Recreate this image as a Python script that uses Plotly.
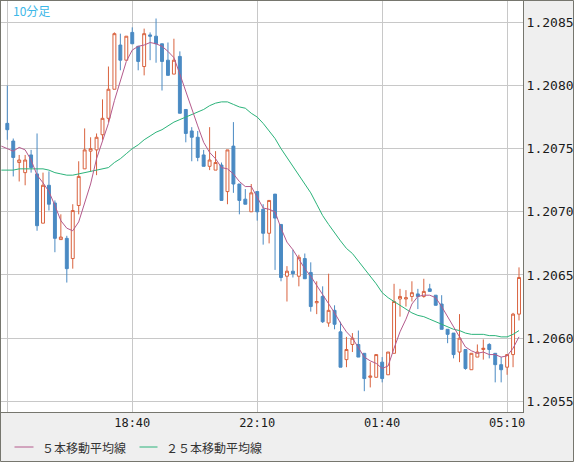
import pandas as pd
import plotly.graph_objects as go

# ---------------- data (10-minute candles, 15:10 -> 05:30) ----------------
open_ = [1.20770, 1.20756, 1.20739, 1.20731, 1.20745, 1.20730, 1.20691, 1.20721, 1.20707, 1.20678,
         1.20679, 1.20663, 1.20705, 1.20734, 1.20748, 1.20749, 1.20761, 1.20774, 1.20797, 1.20832,
         1.20820, 1.20842, 1.20831, 1.20815, 1.20840, 1.20839, 1.20833, 1.20820, 1.20809, 1.20823,
         1.20781, 1.20764, 1.20759, 1.20745, 1.20736, 1.20733, 1.20737, 1.20716, 1.20752, 1.20722,
         1.20710, 1.20700, 1.20716, 1.20702, 1.20683, 1.20714, 1.20690, 1.20649, 1.20653, 1.20649,
         1.20663, 1.20652, 1.20628, 1.20633, 1.20612, 1.20622, 1.20605, 1.20583, 1.20595, 1.20595,
         1.20588, 1.20569, 1.20569, 1.20581, 1.20571, 1.20588, 1.20631, 1.20631, 1.20633, 1.20635,
         1.20633, 1.20639, 1.20634, 1.20627, 1.20607, 1.20604, 1.20589, 1.20591, 1.20575, 1.20585,
         1.20591, 1.20595, 1.20588, 1.20579, 1.20577, 1.20587, 1.20619]
high = [1.20800, 1.20758, 1.20745, 1.20745, 1.20749, 1.20762, 1.20731, 1.20732, 1.20709, 1.20698,
        1.20681, 1.20706, 1.20740, 1.20766, 1.20759, 1.20762, 1.20789, 1.20815, 1.20842, 1.20841,
        1.20839, 1.20846, 1.20831, 1.20845, 1.20842, 1.20853, 1.20833, 1.20834, 1.20837, 1.20827,
        1.20781, 1.20767, 1.20764, 1.20749, 1.20767, 1.20748, 1.20739, 1.20749, 1.20771, 1.20722,
        1.20718, 1.20722, 1.20716, 1.20706, 1.20709, 1.20714, 1.20690, 1.20657, 1.20670, 1.20666,
        1.20667, 1.20660, 1.20645, 1.20641, 1.20651, 1.20626, 1.20613, 1.20601, 1.20604, 1.20606,
        1.20588, 1.20581, 1.20587, 1.20585, 1.20589, 1.20643, 1.20639, 1.20638, 1.20645, 1.20639,
        1.20647, 1.20643, 1.20634, 1.20634, 1.20607, 1.20604, 1.20619, 1.20591, 1.20588, 1.20595,
        1.20599, 1.20596, 1.20588, 1.20585, 1.20587, 1.20620, 1.20656]
low = [1.20757, 1.20728, 1.20724, 1.20721, 1.20731, 1.20685, 1.20691, 1.20701, 1.20668, 1.20678,
       1.20644, 1.20655, 1.20698, 1.20734, 1.20732, 1.20729, 1.20757, 1.20771, 1.20797, 1.20812,
       1.20820, 1.20833, 1.20812, 1.20808, 1.20820, 1.20818, 1.20796, 1.20808, 1.20809, 1.20778,
       1.20755, 1.20740, 1.20740, 1.20736, 1.20733, 1.20733, 1.20709, 1.20706, 1.20715, 1.20698,
       1.20706, 1.20700, 1.20693, 1.20674, 1.20675, 1.20654, 1.20645, 1.20629, 1.20648, 1.20641,
       1.20647, 1.20621, 1.20619, 1.20612, 1.20609, 1.20607, 1.20577, 1.20577, 1.20589, 1.20585,
       1.20558, 1.20561, 1.20569, 1.20565, 1.20571, 1.20588, 1.20617, 1.20625, 1.20629, 1.20623,
       1.20632, 1.20637, 1.20626, 1.20607, 1.20596, 1.20584, 1.20581, 1.20575, 1.20575, 1.20585,
       1.20583, 1.20584, 1.20565, 1.20565, 1.20571, 1.20577, 1.20614]
close = [1.20765, 1.20743, 1.20741, 1.20741, 1.20735, 1.20689, 1.20721, 1.20706, 1.20679, 1.20680,
         1.20655, 1.20701, 1.20728, 1.20749, 1.20750, 1.20759, 1.20774, 1.20797, 1.20841, 1.20820,
         1.20839, 1.20833, 1.20819, 1.20841, 1.20839, 1.20833, 1.20819, 1.20808, 1.20820, 1.20778,
         1.20762, 1.20759, 1.20743, 1.20736, 1.20741, 1.20739, 1.20709, 1.20749, 1.20722, 1.20709,
         1.20706, 1.20715, 1.20700, 1.20683, 1.20709, 1.20695, 1.20648, 1.20653, 1.20651, 1.20664,
         1.20647, 1.20625, 1.20629, 1.20613, 1.20622, 1.20611, 1.20577, 1.20591, 1.20600, 1.20585,
         1.20568, 1.20570, 1.20587, 1.20568, 1.20589, 1.20629, 1.20633, 1.20632, 1.20636, 1.20633,
         1.20637, 1.20637, 1.20626, 1.20607, 1.20603, 1.20587, 1.20600, 1.20576, 1.20588, 1.20589,
         1.20592, 1.20591, 1.20579, 1.20575, 1.20587, 1.20619, 1.20648]

# moving averages as drawn (first point is the 15:00 bar at the left edge)
ma5 = [1.20752,
       1.20750, 1.20748, 1.20751, 1.20749, 1.20741, 1.20729, 1.20723, 1.20716, 1.20705, 1.20693,
       1.20687, 1.20685, 1.20692, 1.20707, 1.20722, 1.20742, 1.20756, 1.20770, 1.20788, 1.20803,
       1.20819, 1.20828, 1.20831, 1.20832, 1.20834, 1.20833, 1.20831, 1.20827, 1.20822, 1.20809,
       1.20795, 1.20781, 1.20768, 1.20755, 1.20747, 1.20742, 1.20735, 1.20734, 1.20730, 1.20724,
       1.20720, 1.20720, 1.20711, 1.20703, 1.20702, 1.20700, 1.20687, 1.20676, 1.20670, 1.20662,
       1.20655, 1.20649, 1.20642, 1.20634, 1.20627, 1.20620, 1.20612, 1.20605, 1.20600, 1.20592,
       1.20585, 1.20582, 1.20580, 1.20576, 1.20578, 1.20592, 1.20605, 1.20615, 1.20627, 1.20633,
       1.20634, 1.20634, 1.20632, 1.20625, 1.20617, 1.20609, 1.20601, 1.20593, 1.20590, 1.20588,
       1.20589, 1.20587, 1.20587, 1.20585, 1.20586, 1.20592, 1.20601]
ma25 = [1.20733,
        1.20733, 1.20733, 1.20734, 1.20734, 1.20734, 1.20734, 1.20734, 1.20733, 1.20731, 1.20730,
        1.20729, 1.20729, 1.20730, 1.20731, 1.20732, 1.20733, 1.20734, 1.20735, 1.20739, 1.20742,
        1.20746, 1.20750, 1.20753, 1.20757, 1.20760, 1.20763, 1.20765, 1.20768, 1.20771, 1.20773,
        1.20775, 1.20777, 1.20779, 1.20781, 1.20784, 1.20786, 1.20787, 1.20787, 1.20785, 1.20783,
        1.20782, 1.20778, 1.20775, 1.20770, 1.20764, 1.20758, 1.20750, 1.20743, 1.20736, 1.20729,
        1.20722, 1.20715, 1.20706, 1.20697, 1.20690, 1.20683, 1.20677, 1.20671, 1.20667, 1.20661,
        1.20655, 1.20649, 1.20643, 1.20636, 1.20632, 1.20629, 1.20626, 1.20623, 1.20620, 1.20618,
        1.20617, 1.20615, 1.20613, 1.20611, 1.20609, 1.20607, 1.20606, 1.20604, 1.20603, 1.20603,
        1.20603, 1.20602, 1.20602, 1.20601, 1.20601, 1.20603, 1.20606]

y_ticks = [1.2055, 1.2060, 1.2065, 1.2070, 1.2075, 1.2080, 1.2085]
x_tick_idx = [0, 21, 42, 63, 84]
x_tick_text = ["", "18:40", "22:10", "01:40", "05:10"]
series_names = ["５本移動平均線", "２５本移動平均線"]
chart_label = "10分足"

times = pd.date_range("2021-03-04 15:10", periods=len(close), freq="10min")
ma_times = pd.date_range("2021-03-04 15:00", periods=len(ma5), freq="10min")

UP = "#d9623e"
DOWN = "#4a8ac3"
C5 = "#b45a8c"
C25 = "#2bb37a"
GRID = "#c8c8c8"
FRAME = "#76766e"

fig = go.Figure()
fig.add_trace(go.Candlestick(
    x=times, open=open_, high=high, low=low, close=close,
    increasing=dict(line=dict(color=UP, width=1), fillcolor="#ffffff"),
    decreasing=dict(line=dict(color=DOWN, width=1), fillcolor=DOWN),
    whiskerwidth=0, hoverinfo="skip", showlegend=False))
fig.add_trace(go.Scatter(x=ma_times, y=ma25, mode="lines", line=dict(color=C25, width=1),
                         hoverinfo="skip", showlegend=False))
fig.add_trace(go.Scatter(x=ma_times, y=ma5, mode="lines", line=dict(color=C5, width=1),
                         hoverinfo="skip", showlegend=False))

W, H = 574, 462
L, R, T, B = 1, 51, 0, 50
pw, ph = W - L - R, H - T - B

def px(xp):
    return (xp - L) / pw

def py(yp):
    return (T + ph - yp) / ph

bar = pd.Timedelta(minutes=10)
fig.update_layout(
    width=W, height=H,
    margin=dict(l=L, r=R, t=T, b=B, pad=0),
    paper_bgcolor="#efefef", plot_bgcolor="#ffffff",
    showlegend=False,
    xaxis=dict(
        type="date",
        range=[times[0] - bar * 1.059, times[0] + bar * 86.67],
        tickvals=[times[i] for i in x_tick_idx], ticktext=x_tick_text,
        showgrid=True, gridcolor=GRID, gridwidth=1,
        showline=True, mirror=True, linecolor=FRAME, linewidth=1,
        ticks="", zeroline=False,
        tickfont=dict(family="DejaVu Sans Mono", size=12, color="#1a1a1a"),
        rangeslider=dict(visible=False), fixedrange=True,
    ),
    yaxis=dict(
        side="right",
        range=[1.2054154, 1.2086765],
        tickvals=y_ticks, ticktext=[f"{v:.4f}" for v in y_ticks],
        showgrid=True, gridcolor=GRID, gridwidth=1,
        showline=True, mirror=True, linecolor=FRAME, linewidth=1,
        ticks="", zeroline=False,
        tickfont=dict(family="DejaVu Sans Mono", size=13, color="#1a1a1a"),
        fixedrange=True,
    ),
    shapes=[
        dict(type="rect", xref="paper", yref="paper",
             x0=px(0.5), x1=px(573.5), y0=py(461.5), y1=py(0.5),
             line=dict(color=FRAME, width=1), fillcolor="rgba(0,0,0,0)", layer="above"),
        dict(type="line", xref="paper", yref="paper",
             x0=px(14.5), x1=px(33.5), y0=py(447), y1=py(447),
             line=dict(color=C5, width=1)),
        dict(type="line", xref="paper", yref="paper",
             x0=px(139.5), x1=px(157.5), y0=py(447), y1=py(447),
             line=dict(color=C25, width=1)),
    ],
    annotations=[
        dict(text=chart_label, xref="paper", yref="paper", x=px(13), y=py(10.5),
             xanchor="left", yanchor="middle", showarrow=False, borderpad=0, borderwidth=0,
             font=dict(family="Noto Sans CJK JP", size=12, color="#3cb8e8")),
        dict(text=series_names[0], xref="paper", yref="paper", x=px(41.5), y=py(447),
             xanchor="left", yanchor="middle", showarrow=False, borderpad=0, borderwidth=0,
             font=dict(family="Noto Sans CJK JP", size=12, color="#333333")),
        dict(text=series_names[1], xref="paper", yref="paper", x=px(165.5), y=py(447),
             xanchor="left", yanchor="middle", showarrow=False, borderpad=0, borderwidth=0,
             font=dict(family="Noto Sans CJK JP", size=12, color="#333333")),
    ],
)

fig.write_html("out.html")
